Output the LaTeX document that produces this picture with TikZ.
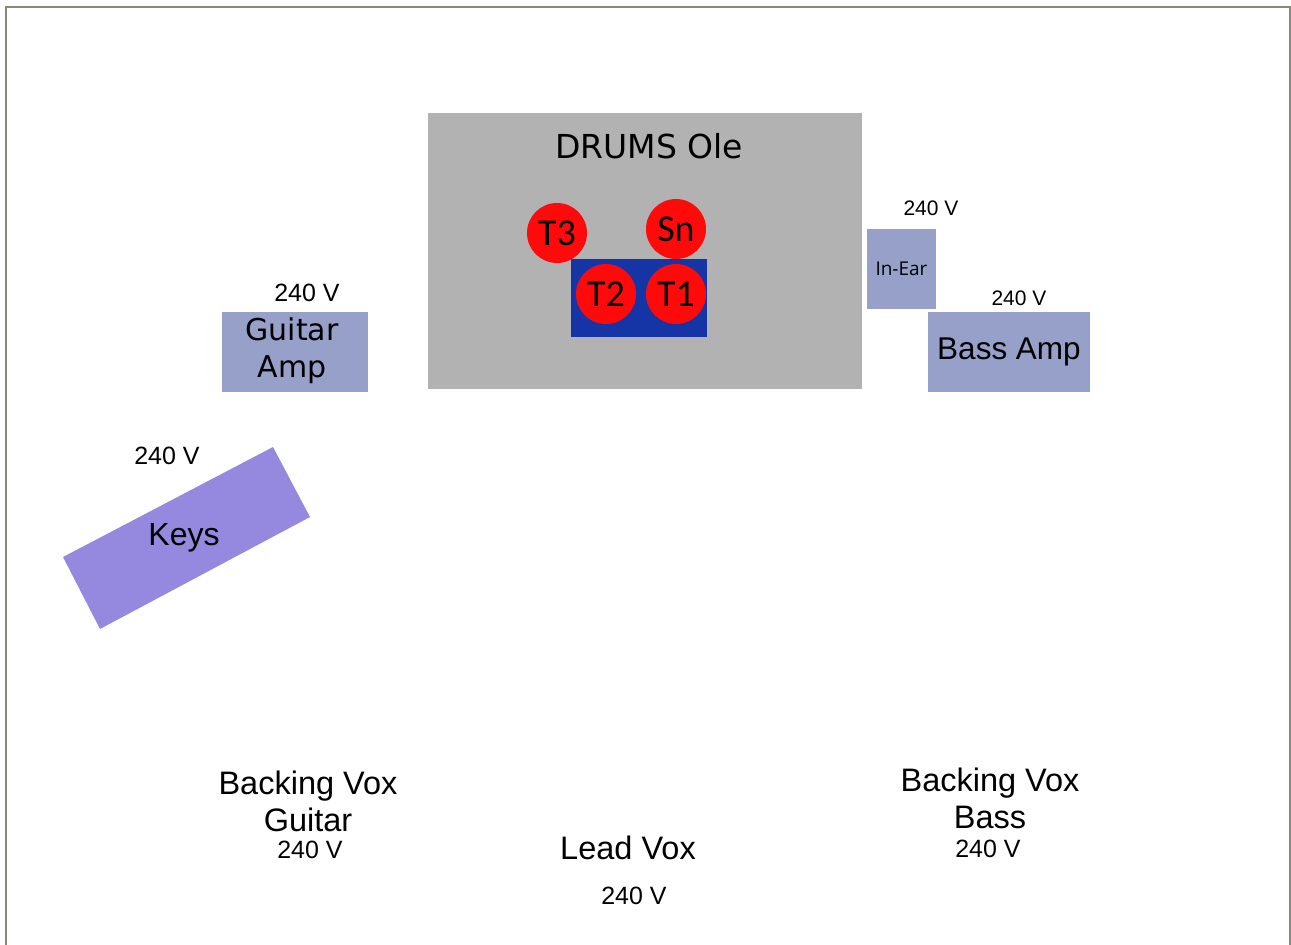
\documentclass[tikz,border=0pt]{standalone}
\usepackage{fontspec}
\setmainfont{Liberation Sans}
\newfontfamily\dejavu{DejaVu Sans}
\newfontfamily\carl{Carlito}
\newfontfamily\opens{Open Sans}
\definecolor{framegray}{HTML}{8A877D}
\definecolor{drumgray}{HTML}{B2B2B2}
\definecolor{kitblue}{HTML}{1535A6}
\definecolor{drumred}{HTML}{FF0A0A}
\definecolor{ampblue}{HTML}{96A0C9}
\definecolor{keyspurple}{HTML}{9589DF}
\begin{document}
\begin{tikzpicture}[x=1pt,y=-1pt,
  box/.style={fill=ampblue,draw=none,inner sep=0pt,anchor=center},
  drum/.style={circle,fill=drumred,draw=none,minimum size=60pt,inner sep=0pt,
    font=\carl\fontsize{38}{40}\selectfont},
  volt/.style={inner sep=0pt,font=\fontsize{25}{28}\selectfont},
  voltsmall/.style={inner sep=0pt,font=\fontsize{21}{24}\selectfont},
  lbl/.style={inner sep=0pt,align=center,font=\fontsize{32.5}{37}\selectfont}]
\useasboundingbox (0,0) rectangle (1291,945);
\fill[white] (0,0) rectangle (1291,945);
\draw[framegray,line width=2pt] (6,946) -- (6,7) -- (1290,7) -- (1290,946);
% drums
\node[fill=drumgray,minimum width=434pt,minimum height=276pt,inner sep=0pt] (drums) at (645,251) {};
\node[inner sep=0pt,font=\dejavu\fontsize{33}{36}\selectfont] (drumlbl) at (649,146) {DRUMS Ole};
\node[fill=kitblue,minimum width=136pt,minimum height=78pt,inner sep=0pt] (kit) at (639,298) {};
\node[drum] (t3) at (557,233) {T3};
\node[drum] (sn) at (676,229) {Sn};
\node[drum] (t2) at (606,294) {T2};
\node[drum] (t1) at (676,294) {T1};
% in-ear
\node[box,minimum width=69pt,minimum height=80pt,font=\opens\fontsize{19}{21}\selectfont] (inear) at (901.5,269) {In-Ear};
\node[voltsmall] (vinear) at (931,208) {240 V};
% bass amp
\node[box,minimum width=162pt,minimum height=80pt,font=\fontsize{31.5}{34}\selectfont] (bass) at (1009,352) {Bass Amp};
\node[voltsmall] (vbass) at (1019,298) {240 V};
% guitar amp
\node[box,minimum width=146pt,minimum height=80pt] (gamp) at (295,352) {};
\node[inner sep=0pt,align=center,font=\dejavu\fontsize{30}{37}\selectfont] (gamplbl) at (292,351) {Guitar\\Amp};
\node[volt] (vgamp) at (307,293) {240 V};
% keys
\fill[keyspurple] (63,557) -- (273,447) -- (310,517) -- (100,629) -- cycle;
\node[inner sep=0pt,font=\fontsize{32}{34}\selectfont] (keys) at (184,538) {Keys};
\node[volt] (vkeys) at (167,456) {240 V};
% vocals
\node[lbl] (bvg) at (308,801) {Backing Vox\\Guitar};
\node[volt] (vbvg) at (310,850) {240 V};
\node[lbl] (lead) at (628,848) {Lead Vox};
\node[volt] (vlead) at (634,896) {240 V};
\node[lbl] (bvb) at (990,798) {Backing Vox\\Bass};
\node[volt] (vbvb) at (988,849) {240 V};
\end{tikzpicture}
\end{document}
